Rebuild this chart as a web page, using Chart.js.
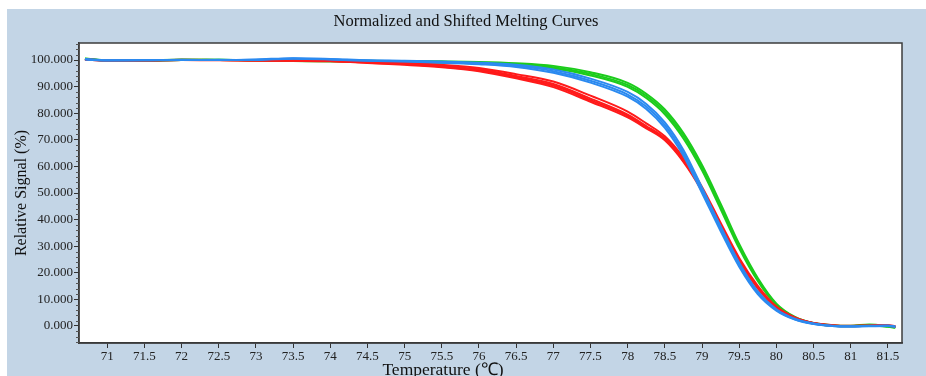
<!DOCTYPE html>
<html>
<head>
<meta charset="utf-8">
<script src="https://cdn.jsdelivr.net/npm/chart.js@4.4.1/dist/chart.umd.min.js"></script>
<style>
  html, body { margin: 0; padding: 0; background: #fff; }
  canvas { display: block; }
</style>
</head>
<body>
<canvas id="melt" width="926" height="376"></canvas>
<script>
const chartTitle = 'Normalized and Shifted Melting Curves';
const xTitle = 'Temperature (\u2103)';
const yTitle = 'Relative Signal (%)';

const xTicks = [71, 71.5, 72, 72.5, 73, 73.5, 74, 74.5, 75, 75.5, 76, 76.5, 77, 77.5, 78, 78.5, 79, 79.5, 80, 80.5, 81, 81.5];
const yTicks = [0, 10, 20, 30, 40, 50, 60, 70, 80, 90, 100];

const temps = [70.7, 71, 71.5, 72, 72.5, 73, 73.5, 74, 74.5, 75, 75.5, 76, 76.5, 77, 77.5, 78, 78.25, 78.5, 78.75, 79, 79.25, 79.5, 79.75, 80, 80.25, 80.5, 80.75, 81, 81.25, 81.5, 81.6];

const blueA = [100.3, 99.9, 99.9, 100.0, 100.0, 100.1, 100.6, 100.3, 99.8, 99.5, 99.2, 98.7, 97.8, 95.8, 92.2, 87.0, 82.5, 75.5, 65.0, 51.0, 36.5, 23.0, 12.5, 6.0, 2.5, 0.8, 0.0, -0.2, 0.0, 0.1, -0.3];
const blueB = [100.2, 99.8, 99.9, 100.1, 100.0, 100.2, 100.7, 100.4, 99.9, 99.7, 99.4, 99.0, 98.2, 96.4, 93.0, 88.0, 83.5, 76.6, 66.2, 52.0, 37.5, 23.8, 13.0, 6.3, 2.7, 0.9, 0.1, -0.1, 0.1, 0.2, -0.2];
const blueC = [100.4, 99.9, 100.0, 100.0, 100.1, 100.0, 100.5, 100.2, 99.7, 99.4, 99.0, 98.4, 97.4, 95.2, 91.5, 86.2, 81.6, 74.5, 64.0, 50.0, 35.7, 22.3, 12.0, 5.8, 2.4, 0.7, 0.0, -0.2, -0.1, 0.0, -0.4];

const redA = [100.2, 99.8, 99.9, 100.0, 100.0, 99.9, 99.8, 99.7, 99.2, 98.6, 97.8, 96.5, 94.0, 91.0, 85.5, 79.5, 75.2, 70.5, 62.5, 51.5, 38.0, 25.0, 14.5, 7.0, 3.0, 1.0, 0.2, 0.0, 0.1, 0.2, -0.2];
const redB = [100.1, 99.9, 99.9, 100.1, 100.0, 99.8, 99.7, 99.5, 98.9, 98.2, 97.3, 95.8, 93.1, 89.8, 84.3, 78.4, 74.3, 69.8, 61.7, 50.7, 37.2, 24.4, 14.1, 6.8, 2.9, 0.9, 0.1, -0.1, 0.0, 0.1, -0.3];
const redC = [100.3, 99.8, 99.8, 100.0, 99.9, 99.9, 99.9, 99.8, 99.4, 98.9, 98.2, 97.0, 94.7, 91.9, 86.6, 80.6, 76.2, 71.3, 63.3, 52.3, 38.8, 25.6, 15.1, 7.3, 3.2, 1.1, 0.3, 0.1, 0.2, 0.3, 0.0];
const redD = [100.2, 99.9, 99.9, 100.0, 100.0, 99.8, 99.8, 99.6, 99.0, 98.4, 97.5, 96.1, 93.5, 90.4, 84.9, 79.0, 74.8, 70.1, 62.1, 51.1, 37.6, 24.7, 14.3, 6.9, 3.0, 1.0, 0.1, 0.0, 0.0, 0.2, -0.4];

const greenA = [100.6, 99.8, 99.7, 100.1, 100.1, 99.9, 99.8, 99.7, 99.6, 99.5, 99.3, 99.0, 98.4, 97.3, 94.8, 90.6, 86.5, 80.5, 71.5, 59.5, 45.0, 30.0, 17.4, 8.0, 3.2, 1.0, 0.2, 0.0, 0.4, -0.2, -0.5];
const greenB = [100.4, 99.9, 99.8, 100.2, 100.0, 99.8, 99.6, 99.4, 99.3, 99.2, 99.0, 98.7, 98.0, 96.8, 94.2, 89.9, 85.7, 79.6, 70.5, 58.5, 44.0, 29.2, 16.9, 7.7, 3.0, 0.9, 0.1, -0.1, 0.3, -0.3, -0.7];
const greenC = [100.5, 99.7, 99.6, 100.0, 100.1, 99.9, 99.9, 99.8, 99.7, 99.6, 99.5, 99.3, 98.8, 97.8, 95.4, 91.4, 87.3, 81.4, 72.5, 60.5, 46.0, 30.8, 18.0, 8.4, 3.4, 1.1, 0.3, 0.1, 0.6, 0.0, -0.4];

const BLUE = '#2b8af0';
const RED = '#ff1a1a';
const GREEN = '#1ccc1c';
const SERIF = '"Liberation Serif", "Times New Roman", serif';

function curve(vals, color) {
  return {
    data: temps.map((t, i) => ({ x: t, y: vals[i] })),
    borderColor: color,
    borderWidth: 2,
    pointRadius: 0,
    fill: false,
    cubicInterpolationMode: 'monotone'
  };
}

// panel background, plot frame, titles and y minor ticks
const frame = {
  id: 'frame',
  beforeDraw(chart) {
    const { ctx, chartArea: a } = chart;
    ctx.save();
    ctx.fillStyle = '#ffffff';
    ctx.fillRect(0, 0, chart.width, chart.height);
    ctx.fillStyle = '#c3d5e6';
    ctx.fillRect(7, 9, chart.width - 7, chart.height - 9);
    ctx.fillStyle = '#ffffff';
    ctx.fillRect(a.left, a.top, a.right - a.left, a.bottom - a.top);
    ctx.fillStyle = '#111';
    ctx.textAlign = 'center';
    ctx.textBaseline = 'middle';
    ctx.font = '16.5px ' + SERIF;
    ctx.fillText(chartTitle, 466, 22);
    ctx.font = '17.5px ' + SERIF;
    ctx.fillText(xTitle, 443, 370);
    ctx.restore();
  },
  afterDraw(chart) {
    const { ctx, chartArea: a } = chart;
    const ys = chart.scales.y;
    ctx.save();
    ctx.strokeStyle = '#3c3c3c';
    ctx.lineWidth = 1.5;
    ctx.strokeRect(a.left, a.top, a.right - a.left, a.bottom - a.top);
    ctx.lineWidth = 1;
    ctx.strokeStyle = '#555';
    for (let v = -6; v <= 106; v += 2) {
      if (v % 10 === 0) continue;
      const py = Math.round(ys.getPixelForValue(v)) + 0.5;
      ctx.beginPath();
      ctx.moveTo(a.left - 3, py);
      ctx.lineTo(a.left, py);
      ctx.stroke();
    }
    ctx.restore();
  }
};

new Chart(document.getElementById('melt'), {
  type: 'line',
  data: {
    datasets: [
      curve(blueA, BLUE), curve(blueB, BLUE), curve(blueC, BLUE),
      curve(redA, RED), curve(redB, RED), curve(redC, RED), curve(redD, RED),
      curve(greenA, GREEN), curve(greenB, GREEN), curve(greenC, GREEN)
    ]
  },
  options: {
    responsive: false,
    animation: false,
    layout: { padding: { left: 7, top: 43, right: 24, bottom: 0 } },
    plugins: {
      legend: { display: false },
      tooltip: { enabled: false }
    },
    scales: {
      x: {
        type: 'linear',
        min: 70.62,
        max: 81.69,
        afterBuildTicks: s => { s.ticks = xTicks.map(v => ({ value: v })); },
        afterFit: s => { s.height = 33; },
        grid: { drawOnChartArea: false, tickLength: 5, tickColor: '#333' },
        border: { color: '#333', width: 1.5 },
        ticks: {
          padding: 1,
          maxRotation: 0,
          autoSkip: false,
          color: '#222',
          font: { family: SERIF, size: 13 },
          callback: v => String(v)
        }
      },
      y: {
        min: -6.4,
        max: 106.4,
        afterBuildTicks: s => { s.ticks = yTicks.map(v => ({ value: v })); },
        afterFit: s => { s.width = 72; },
        grid: { drawOnChartArea: false, tickLength: 5, tickColor: '#333' },
        border: { color: '#333', width: 1.5 },
        ticks: {
          padding: 1,
          color: '#222',
          font: { family: SERIF, size: 13 },
          callback: v => v.toFixed(3)
        },
        title: {
          display: true,
          text: yTitle,
          color: '#111',
          font: { family: SERIF, size: 16 },
          padding: { top: 5.4, bottom: 0 }
        }
      }
    }
  },
  plugins: [frame]
});
</script>
</body>
</html>
